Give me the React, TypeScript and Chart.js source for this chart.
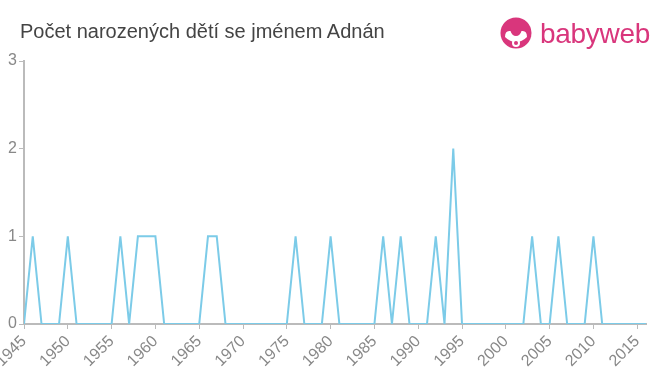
import React, { useEffect, useRef } from "react";
import { Chart, registerables } from "chart.js";

Chart.register(...registerables);

const years: number[] = [];
for (let y = 1945; y <= 2016; y++) years.push(y);
const onesYears = [1946, 1950, 1956, 1958, 1959, 1960, 1966, 1967, 1976, 1980, 1986, 1988, 1992, 2003, 2006, 2010];
const twosYears = [1994];
const counts: number[] = years.map((y) => (twosYears.includes(y) ? 2 : onesYears.includes(y) ? 1 : 0));

const title = "Počet narozených dětí se jménem Adnán";
const yTicks = [0, 1, 2, 3];
const xTicks = [1945, 1950, 1955, 1960, 1965, 1970, 1975, 1980, 1985, 1990, 1995, 2000, 2005, 2010, 2015];

export default function App() {
  const ref = useRef<HTMLCanvasElement>(null);
  useEffect(() => {
    document.body.style.margin = "0";
    const ctx = ref.current!;
    const chart = new Chart(ctx, {
      type: "line",
      data: {
        datasets: [
          {
            data: years.map((y, i) => ({ x: y, y: counts[i] })),
            borderColor: "#7ccbe8",
            borderWidth: 2,
            pointRadius: 0,
            tension: 0,
            fill: false,
          },
        ],
      },
      options: {
        animation: false,
        responsive: false,
        maintainAspectRatio: false,
        layout: { padding: { top: 61, right: 14, left: 0, bottom: 0 } },
        plugins: { legend: { display: false }, tooltip: { enabled: false }, title: { display: false } },
        scales: {
          x: {
            type: "linear",
            min: 1945,
            max: 2016,
            afterBuildTicks: (s: any) => {
              s.ticks = xTicks.map((v) => ({ value: v }));
            },
            ticks: {
              autoSkip: false,
              minRotation: 45,
              maxRotation: 45,
              color: "#888",
              font: { family: "Liberation Sans, Arial, sans-serif", size: 16 },
              callback: (v: any) => String(v),
              padding: 3,
            },
            grid: { drawOnChartArea: false, tickLength: 5, color: "#bbb" },
            border: { color: "#bbb", width: 2 },
            afterFit: (s: any) => {
              s.height = 51;
              s.paddingLeft = 0;
              s.paddingRight = 0;
            },
          },
          y: {
            min: 0,
            max: 3,
            afterBuildTicks: (s: any) => {
              s.ticks = yTicks.map((v) => ({ value: v }));
            },
            ticks: {
              color: "#888",
              font: { family: "Liberation Sans, Arial, sans-serif", size: 16 },
              padding: 2,
            },
            grid: { drawOnChartArea: false, tickLength: 5, color: "#bbb" },
            border: { color: "#bbb", width: 2 },
            afterFit: (s: any) => {
              s.width = 24;
              s.paddingTop = 0;
              s.paddingBottom = 0;
            },
          },
        },
      },
    });
    return () => chart.destroy();
  }, []);

  return (
    <div style={{ position: "relative", width: 660, height: 375, background: "#fff", overflow: "hidden" }}>
      <canvas ref={ref} width={660} height={375} style={{ position: "absolute", left: 0, top: 0 }} />
      <div
        style={{
          position: "absolute",
          left: 20,
          top: 20,
          fontFamily: "Liberation Sans, Arial, sans-serif",
          fontSize: 20,
          color: "#444",
          whiteSpace: "nowrap",
        }}
      >
        {title}
      </div>
      <div style={{ position: "absolute", left: 500, top: 16, display: "flex", alignItems: "center" }}>
        <svg width={32} height={32} viewBox="0 0 32 32">
          <circle cx={16} cy={16} r={15.5} fill="#d9367c" />
          <path d="M5 20 Q5 13 10.5 14 Q12 19 16 19 Q20 19 21.5 14 Q27 13 27 20 Q22 25 16 25 Q10 25 5 20 Z" fill="#fff" />
          <circle cx={16} cy={26} r={4} fill="#fff" />
          <circle cx={16} cy={26} r={2} fill="#d9367c" />
        </svg>
        <span
          style={{
            marginLeft: 8,
            fontFamily: "Liberation Sans, Arial, sans-serif",
            fontSize: 28,
            color: "#d9367c",
            letterSpacing: -0.3,
            lineHeight: "32px",
            marginTop: 2,
          }}
        >
          babyweb
        </span>
      </div>
    </div>
  );
}
